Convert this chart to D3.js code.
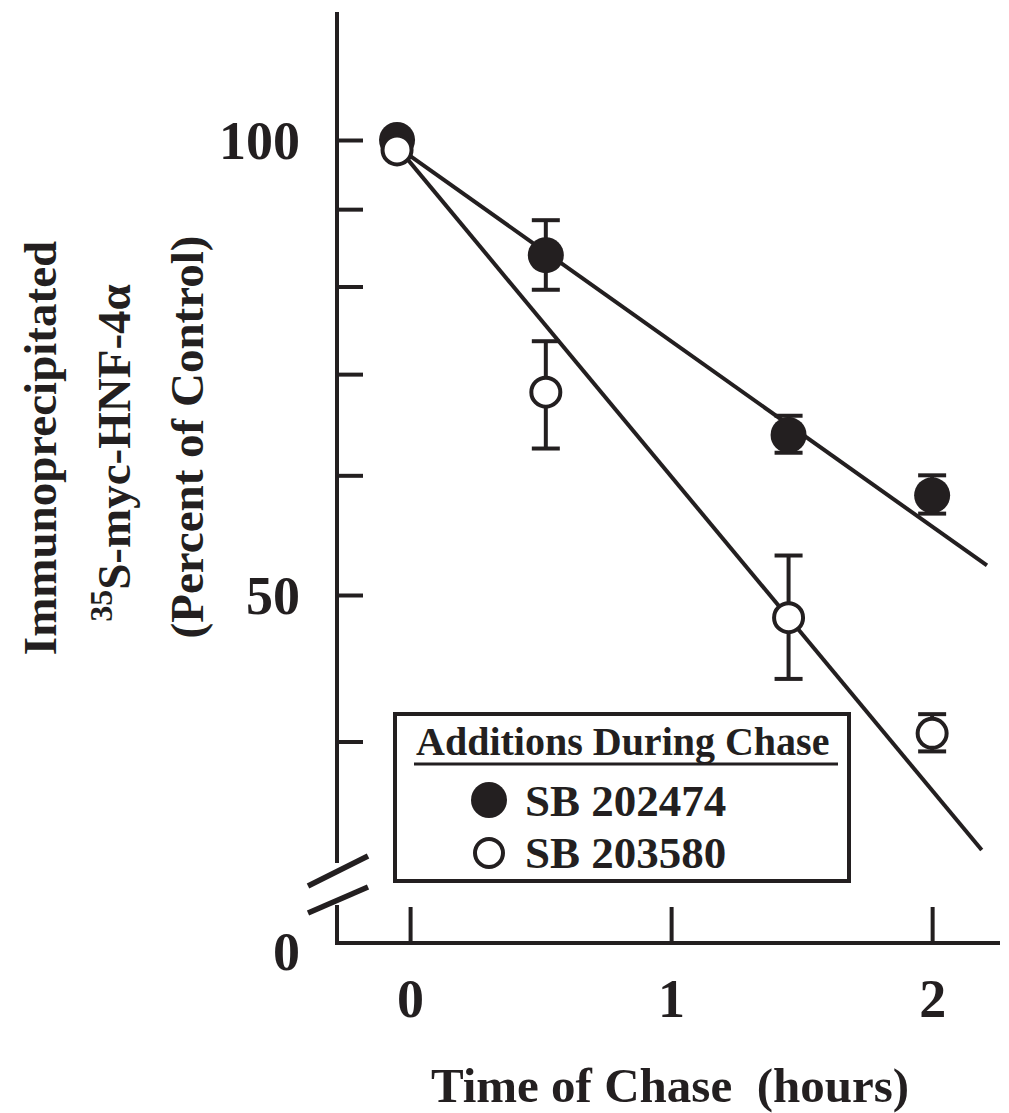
<!DOCTYPE html>
<html>
<head>
<meta charset="utf-8">
<script src="https://cdn.jsdelivr.net/npm/d3@7"></script>
<style>
  html, body { margin: 0; padding: 0; background: #fff; }
  svg { display: block; }
  text { font-family: "Liberation Serif", "Times New Roman", serif; font-weight: bold; fill: #231f20; }
</style>
</head>
<body>
<svg id="chart" width="1009" height="1113"></svg>
<script>
// ---------------- DATA ----------------
const seriesNames = ["SB 202474", "SB 203580"];
const timeHours = [-0.05, 0.52, 1.45, 2.0];

// SB 202474 (filled)
const filledValues = [100, 83.9, 63.8, 58.2];
const filledErrLow  = [null, 79.6, 62.1, 56.6];
const filledErrHigh = [null, 88.5, 65.7, 60.0];

// SB 203580 (open)
const openValues = [98.5, 68.1, 48.3, 40.5];
const openErrLow  = [null, 62.5, 44.0, 39.4];
const openErrHigh = [null, 73.6, 53.1, 41.7];

// fitted decay lines (start / end points)
const filledFitTime = [-0.05, 2.21];
const filledFitValue = [99.0, 52.3];
const openFitTime = [-0.05, 2.19];
const openFitValue = [99.0, 33.9];

const yTickValues = [100, 90, 80, 70, 60, 50, 40];
const yTickLabels = { 100: "100", 50: "50" };
const xTickValues = [0, 1, 2];
const zeroLabel = "0";

const xTitle = "Time of Chase  (hours)";
const yTitleLine1 = "Immunoprecipitated";
const yTitleLine2Sup = "35";
const yTitleLine2 = "S-myc-HNF-4\u03b1";
const yTitleLine3 = "(Percent of Control)";
const legendTitle = "Additions During Chase";

// ---------------- LAYOUT ----------------
const ink = "#231f20";
const svg = d3.select("#chart");

const axisX0 = 337, axisXEnd = 1000;
const axisYBottom = 943;
const x = d3.scaleLinear().domain([-0.28, 2.26]).range([axisX0, axisXEnd]);
const y = d3.scaleLog().domain([50, 100]).range([595, 140]);
const yTopPx = 12;
const breakTop = 863, breakBottom = 905;

// ---------------- AXES ----------------
// y axis line (broken)
svg.append("line").attr("x1", axisX0).attr("x2", axisX0).attr("y1", yTopPx).attr("y2", breakTop)
  .attr("stroke", ink).attr("stroke-width", 4);
svg.append("line").attr("x1", axisX0).attr("x2", axisX0).attr("y1", breakBottom).attr("y2", axisYBottom + 2)
  .attr("stroke", ink).attr("stroke-width", 4);

// break marks
const breakG = svg.append("g").attr("stroke", ink).attr("stroke-width", 5.5);
[[308, 886, 368, 856], [308, 913, 368, 887]].forEach(s => {
  breakG.append("line").attr("x1", s[0]).attr("y1", s[1]).attr("x2", s[2]).attr("y2", s[3]);
});

// y ticks through d3 axis
const yAxis = d3.axisLeft(y)
  .tickValues(yTickValues)
  .tickSize(-26)
  .tickPadding(37)
  .tickFormat(d => yTickLabels[d] || "");
const yAxisG = svg.append("g").attr("transform", `translate(${axisX0},0)`).call(yAxis);
yAxisG.select(".domain").remove();
yAxisG.selectAll(".tick line").attr("stroke", ink).attr("stroke-width", 4);
yAxisG.selectAll(".tick text")
  .style("font-size", "54px").attr("dy", "0.34em").attr("fill", ink);
yAxisG.attr("font-family", null).attr("font-size", null);

// zero label at bottom of broken axis
svg.append("text").attr("x", 300).attr("y", 970).attr("text-anchor", "end")
  .style("font-size", "54px").text(zeroLabel);

// x axis
const xAxis = d3.axisBottom(x).tickValues(xTickValues).tickSize(-36).tickFormat(d3.format("d"));
const xAxisG = svg.append("g").attr("transform", `translate(0,${axisYBottom})`).call(xAxis);
xAxisG.select(".domain").remove();
xAxisG.append("line").attr("x1", axisX0 - 2).attr("x2", axisXEnd).attr("y1", 0).attr("y2", 0)
  .attr("stroke", ink).attr("stroke-width", 4);
xAxisG.selectAll(".tick line").attr("stroke", ink).attr("stroke-width", 4);
xAxisG.selectAll(".tick text").attr("y", 74).attr("dy", 0).style("font-size", "54px").attr("fill", ink);
xAxisG.attr("font-family", null).attr("font-size", null);

// axis titles
svg.append("text").attr("x", 670).attr("y", 1102).attr("text-anchor", "middle")
  .style("font-size", "49px").style("white-space", "pre").text(xTitle);

svg.append("text").attr("transform", "translate(56,448) rotate(-90)").attr("text-anchor", "middle")
  .style("font-size", "47px").text(yTitleLine1);
const t2 = svg.append("text").attr("transform", "translate(124,453) rotate(-90)").attr("text-anchor", "middle")
  .style("font-size", "47px");
t2.append("tspan").attr("dy", "-0.38em").style("font-size", "32px").text(yTitleLine2Sup);
t2.append("tspan").attr("dy", "0.38em").text(yTitleLine2);
svg.append("text").attr("transform", "translate(203,437) rotate(-90)").attr("text-anchor", "middle")
  .style("font-size", "47px").text(yTitleLine3);

// ---------------- FIT LINES ----------------
const line = d3.line().x(d => x(d[0])).y(d => y(d[1]));
const filledFit = filledFitTime.map((t, i) => [t, filledFitValue[i]]);
const openFit = openFitTime.map((t, i) => [t, openFitValue[i]]);
[filledFit, openFit].forEach(pts => {
  svg.append("path").attr("d", line(pts)).attr("fill", "none").attr("stroke", ink).attr("stroke-width", 4);
});

// ---------------- ERROR BARS & POINTS ----------------
function drawSeries(vals, lo, hi, filled) {
  const g = svg.append("g");
  timeHours.forEach((t, i) => {
    if (lo[i] != null) {
      const cx = x(t);
      g.append("line").attr("x1", cx).attr("x2", cx).attr("y1", y(hi[i])).attr("y2", y(lo[i]))
        .attr("stroke", ink).attr("stroke-width", 4);
      [hi[i], lo[i]].forEach(v => {
        g.append("line").attr("x1", cx - 14).attr("x2", cx + 14).attr("y1", y(v)).attr("y2", y(v))
          .attr("stroke", ink).attr("stroke-width", 4);
      });
    }
  });
  timeHours.forEach((t, i) => {
    if (filled) {
      g.append("circle").attr("cx", x(t)).attr("cy", y(vals[i])).attr("r", 18).attr("fill", ink);
    } else {
      g.append("circle").attr("cx", x(t)).attr("cy", y(vals[i])).attr("r", 14.5)
        .attr("fill", "#fff").attr("stroke", ink).attr("stroke-width", 4);
    }
  });
}
drawSeries(filledValues, filledErrLow, filledErrHigh, true);
drawSeries(openValues, openErrLow, openErrHigh, false);

// ---------------- LEGEND ----------------
const lg = svg.append("g");
lg.append("rect").attr("x", 395).attr("y", 714).attr("width", 454).attr("height", 167)
  .attr("fill", "#fff").attr("stroke", ink).attr("stroke-width", 4);
lg.append("text").attr("x", 416).attr("y", 755).style("font-size", "40px").text(legendTitle);
lg.append("line").attr("x1", 414).attr("x2", 838).attr("y1", 764).attr("y2", 764)
  .attr("stroke", ink).attr("stroke-width", 3);
lg.append("circle").attr("cx", 489).attr("cy", 800).attr("r", 18).attr("fill", ink);
lg.append("text").attr("x", 525).attr("y", 816).style("font-size", "45px").text(seriesNames[0]);
lg.append("circle").attr("cx", 489).attr("cy", 853).attr("r", 14).attr("fill", "#fff")
  .attr("stroke", ink).attr("stroke-width", 4);
lg.append("text").attr("x", 525).attr("y", 868).style("font-size", "45px").text(seriesNames[1]);
</script>
</body>
</html>
